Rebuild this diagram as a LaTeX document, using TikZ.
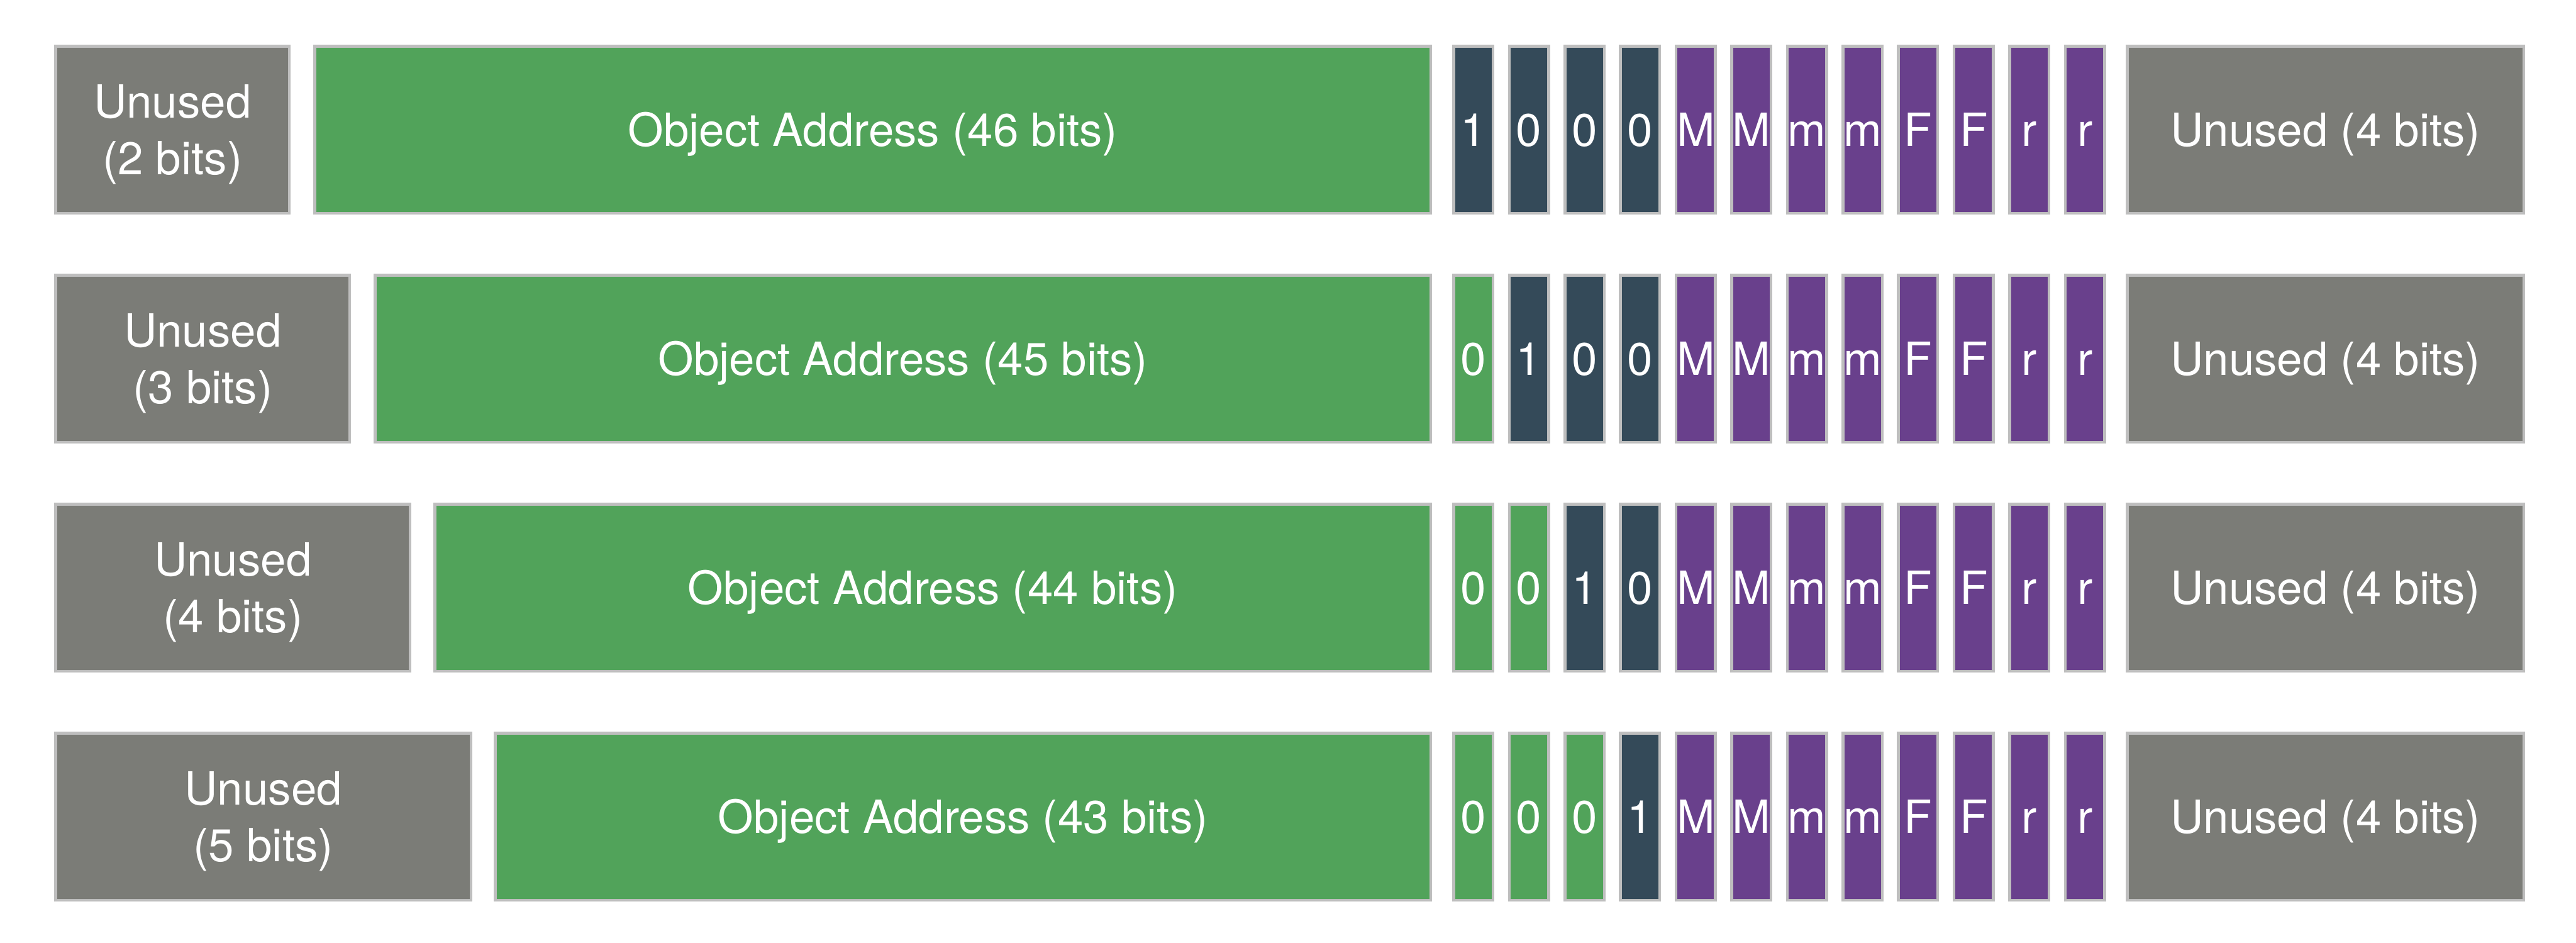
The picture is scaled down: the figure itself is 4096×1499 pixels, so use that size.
\documentclass[tikz,border=0pt]{standalone}
\usepackage{fontspec}
\setmainfont{TeX Gyre Heros}
\definecolor{unusedgray}{HTML}{7B7C77}
\definecolor{addrgreen}{HTML}{51A35A}
\definecolor{tagdark}{HTML}{344A59}
\definecolor{metapurple}{HTML}{69408C}
\definecolor{edgegray}{HTML}{BEBEBE}
\tikzset{
  cellbase/.style={draw=edgegray, line width=4.5bp, inner sep=0pt, anchor=north west,
    text=white, font=\fontsize{73}{90}\selectfont, align=center,
    text height=52.5bp, text depth=0bp},
  unusedcell/.style={cellbase, fill=unusedgray},
  twoline/.style={text height=142.5bp, text depth=0bp},
  addrcell/.style={cellbase, fill=addrgreen},
  tagcell/.style={cellbase, fill=tagdark},
  metacell/.style={cellbase, fill=metapurple},
}
\newcommand\cellbox[6]{%
  \pgfmathsetmacro\cellw{#4-#3-4.5}%
  \node[#2, minimum width=\cellw bp, minimum height=265.5bp] (#1) at ({#3+2.25},{#5+2.25}) {#6};}
\newcommand\bitrow[3]{%
  \foreach \sty/\lab [count=\i from 0] in {#3} {%
    \pgfmathsetmacro\bx{2307+88.4*\i}%
    \cellbox{r#1b\i}{\sty}{\bx}{\bx+67}{#2}{\lab}%
  }}
\begin{document}
\begin{tikzpicture}[x=1bp,y=-1bp]
\useasboundingbox[fill=white] (0,0) rectangle (4096,1499);
% row 1
\cellbox{u1}{unusedcell,twoline}{84}{460}{69}{Unused\\(2 bits)}
\cellbox{a1}{addrcell}{496}{2275}{69}{Object Address (46 bits)}
\bitrow{1}{69}{tagcell/1, tagcell/0, tagcell/0, tagcell/0, metacell/M, metacell/M, metacell/m, metacell/m, metacell/F, metacell/F, metacell/r, metacell/r}
\cellbox{x1}{unusedcell}{3378}{4013}{69}{Unused (4 bits)}
% row 2
\cellbox{u2}{unusedcell,twoline}{84}{556}{433}{Unused\\(3 bits)}
\cellbox{a2}{addrcell}{592}{2275}{433}{Object Address (45 bits)}
\bitrow{2}{433}{addrcell/0, tagcell/1, tagcell/0, tagcell/0, metacell/M, metacell/M, metacell/m, metacell/m, metacell/F, metacell/F, metacell/r, metacell/r}
\cellbox{x2}{unusedcell}{3378}{4013}{433}{Unused (4 bits)}
% row 3
\cellbox{u3}{unusedcell,twoline}{84}{652}{797}{Unused\\(4 bits)}
\cellbox{a3}{addrcell}{687}{2275}{797}{Object Address (44 bits)}
\bitrow{3}{797}{addrcell/0, addrcell/0, tagcell/1, tagcell/0, metacell/M, metacell/M, metacell/m, metacell/m, metacell/F, metacell/F, metacell/r, metacell/r}
\cellbox{x3}{unusedcell}{3378}{4013}{797}{Unused (4 bits)}
% row 4
\cellbox{u4}{unusedcell,twoline}{84}{749}{1161}{Unused\\(5 bits)}
\cellbox{a4}{addrcell}{783}{2275}{1161}{Object Address (43 bits)}
\bitrow{4}{1161}{addrcell/0, addrcell/0, addrcell/0, tagcell/1, metacell/M, metacell/M, metacell/m, metacell/m, metacell/F, metacell/F, metacell/r, metacell/r}
\cellbox{x4}{unusedcell}{3378}{4013}{1161}{Unused (4 bits)}
\end{tikzpicture}
\end{document}
